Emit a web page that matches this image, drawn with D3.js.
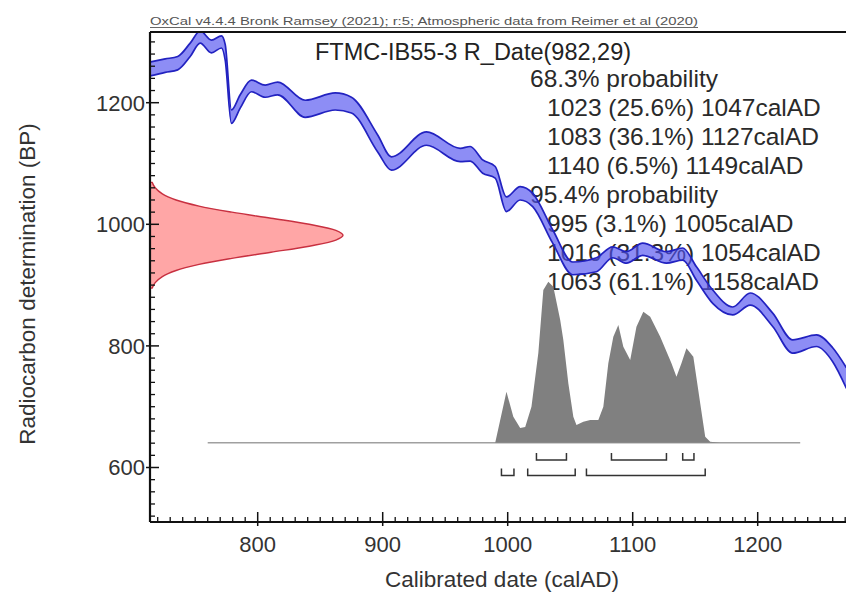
<!DOCTYPE html>
<html>
<head>
<meta charset="utf-8">
<script src="https://cdn.jsdelivr.net/npm/d3@7"></script>
<style>
  html, body { margin: 0; padding: 0; background: #fff; }
  svg { display: block; }
  text { font-family: "Liberation Sans", Arial, Helvetica, sans-serif; }
</style>
</head>
<body>
<svg id="chart" width="846" height="592"></svg>
<script>
// ---------------- DATA ----------------
const headerText = "OxCal v4.4.4 Bronk Ramsey (2021); r:5; Atmospheric data from Reimer et al (2020)";
const titleText = "FTMC-IB55-3 R_Date(982,29)";
const xTitle = "Calibrated date (calAD)";
const yTitle = "Radiocarbon determination (BP)";

// Calibration curve band (calAD, upper BP, lower BP)
const curveYears = [714, 726, 736, 746, 754, 763, 771, 774, 779, 786, 795, 806, 816, 838, 862, 875, 896, 907, 935, 962, 970, 980, 990, 999, 1010, 1020, 1036, 1052, 1071, 1084, 1095, 1108, 1127, 1140, 1151, 1164, 1180, 1194, 1212, 1228, 1247, 1260, 1271];
const curveUpper = [1267, 1272, 1276, 1298, 1318, 1303, 1310, 1296, 1188, 1213, 1237, 1229, 1234, 1204, 1216, 1209, 1147, 1111, 1152, 1125, 1128, 1106, 1095, 1045, 1062, 1051, 991, 938, 945, 963, 955, 969, 955, 961, 930, 892, 864, 887, 854, 810, 818, 797, 764];
const curveLower = [1244, 1250, 1254, 1276, 1298, 1282, 1290, 1270, 1166, 1191, 1218, 1209, 1213, 1176, 1188, 1183, 1119, 1089, 1130, 1103, 1104, 1084, 1076, 1021, 1040, 1029, 969, 917, 922, 945, 936, 949, 936, 941, 908, 870, 851, 867, 832, 788, 799, 774, 730];

// Radiocarbon measurement distribution (BP, relative density)
const dateBP  = [1069, 1060, 1050, 1040, 1030, 1020, 1010, 1000, 990, 982, 974, 964, 954, 944, 934, 924, 914, 904, 895];
const dateRel = [0.011, 0.027, 0.064, 0.135, 0.254, 0.424, 0.627, 0.825, 0.963, 1.0, 0.963, 0.825, 0.627, 0.424, 0.254, 0.135, 0.064, 0.027, 0.011];

// Calibrated probability distribution (calAD, relative probability)
const calYears = [990, 999, 1004.5, 1010, 1014, 1019, 1024.5, 1028.5, 1032.5, 1036.5, 1042, 1044.5, 1048.5, 1052.5, 1055, 1060.5, 1066, 1072.5, 1076.5, 1080.5, 1084.5, 1088.5, 1092.5, 1098, 1103, 1108.5, 1114, 1122, 1131, 1135, 1139, 1143, 1148.5, 1154, 1158, 1162, 1170];
const calProb  = [0, 0.317, 0.161, 0.091, 0.098, 0.224, 0.557, 0.948, 1.0, 0.969, 0.762, 0.638, 0.369, 0.161, 0.11, 0.13, 0.141, 0.141, 0.224, 0.493, 0.658, 0.731, 0.596, 0.514, 0.72, 0.814, 0.783, 0.658, 0.493, 0.41, 0.493, 0.586, 0.534, 0.245, 0.037, 0.006, 0];
const calSpan = [760, 1234];

// Highest probability ranges
const ranges68 = [[1023, 1047], [1083, 1127], [1140, 1149]];
const ranges95 = [[995, 1005], [1016, 1054], [1063, 1158]];

const summaryLines = [
  {t: "68.3% probability", head: true},
  {t: "1023 (25.6%) 1047calAD", head: false},
  {t: "1083 (36.1%) 1127calAD", head: false},
  {t: "1140 (6.5%) 1149calAD", head: false},
  {t: "95.4% probability", head: true},
  {t: "995 (3.1%) 1005calAD", head: false},
  {t: "1016 (31.3%) 1054calAD", head: false},
  {t: "1063 (61.1%) 1158calAD", head: false}
];

const xMajorTicks = [800, 900, 1000, 1100, 1200];
const xMinorTicks = d3.range(720, 1271, 10).filter(v => v % 100 !== 0);
const yMajorTicks = [600, 800, 1000, 1200];
const yMinorTicks = d3.range(520, 1320, 20).filter(v => v % 200 !== 0);

// ---------------- LAYOUT ----------------
const svg = d3.select("#chart");
const L = 150, T = 32, R = 850, B = 522;

const x = d3.scaleLinear().domain([800, 1200]).range([257.7, 757.7]);
const y = d3.scaleLinear().domain([1200, 600]).range([102.7, 467.5]);
const densX = d3.scaleLinear().domain([0, 1]).range([L, L + 193]);
const probY = d3.scaleLinear().domain([0, 1]).range([442.7, 281.7]);

svg.append("rect").attr("width", 846).attr("height", 592).attr("fill", "#fff");

svg.append("defs").append("clipPath").attr("id", "plotclip")
  .append("rect").attr("x", L).attr("y", T).attr("width", R - L).attr("height", B - T);

// header
svg.append("text").attr("x", L).attr("y", 25).attr("font-size", 11).attr("fill", "#555")
  .attr("textLength", 548).attr("lengthAdjust", "spacingAndGlyphs").text(headerText);
svg.append("line").attr("x1", L).attr("x2", L + 548).attr("y1", 27.5).attr("y2", 27.5)
  .attr("stroke", "#666").attr("stroke-width", 1);

// title
svg.append("text").attr("x", 315).attr("y", 59.5).attr("font-size", 23.5).attr("fill", "#222").text(titleText);

// summary lines
svg.append("g").selectAll("text").data(summaryLines).join("text")
  .attr("x", d => d.head ? 530 : 547)
  .attr("y", (d, i) => 87 + i * 29)
  .attr("font-size", 24.5).attr("fill", "#2a2a2a")
  .text(d => d.t);

const plot = svg.append("g").attr("clip-path", "url(#plotclip)");

// calibration curve band
const band = curveYears.map((yr, i) => ({yr, hi: curveUpper[i], lo: curveLower[i]}));
const cv = d3.curveMonotoneX;
plot.append("path").datum(band)
  .attr("d", d3.area().x(d => x(d.yr)).y0(d => y(d.lo)).y1(d => y(d.hi)).curve(cv))
  .attr("fill", "rgb(80,80,240)").attr("fill-opacity", 0.65);
plot.append("path").datum(band)
  .attr("d", d3.line().x(d => x(d.yr)).y(d => y(d.hi)).curve(cv))
  .attr("fill", "none").attr("stroke", "#2222c0").attr("stroke-width", 1.7);
plot.append("path").datum(band)
  .attr("d", d3.line().x(d => x(d.yr)).y(d => y(d.lo)).curve(cv))
  .attr("fill", "none").attr("stroke", "#2222c0").attr("stroke-width", 1.7);

// radiocarbon date distribution (red)
const dens = dateBP.map((bp, i) => ({bp, r: dateRel[i]}));
plot.append("path").datum(dens)
  .attr("d", d3.area().y(d => y(d.bp)).x0(L).x1(d => densX(d.r)).curve(d3.curveCatmullRom))
  .attr("fill", "#ffa6a6").attr("stroke", "#c83040").attr("stroke-width", 1.4);

// calibrated distribution (grey)
svg.append("line").attr("x1", x(calSpan[0])).attr("x2", x(calSpan[1]))
  .attr("y1", probY(0)).attr("y2", probY(0)).attr("stroke", "#a0a0a0").attr("stroke-width", 1.5);
const cal = calYears.map((yr, i) => ({yr, p: calProb[i]}));
svg.append("path").datum(cal)
  .attr("d", d3.area().x(d => x(d.yr)).y0(probY(0)).y1(d => probY(d.p)).curve(d3.curveLinear))
  .attr("fill", "#808080");

// range brackets
function brackets(ranges, yLine, h) {
  const g = svg.append("g").attr("fill", "none").attr("stroke", "#333").attr("stroke-width", 1.5);
  g.selectAll("path").data(ranges).join("path")
    .attr("d", d => `M${x(d[0])},${yLine - h}V${yLine}H${x(d[1])}V${yLine - h}`);
}
brackets(ranges68, 460, 7);
brackets(ranges95, 475.5, 7);

// axes / frame
const ax = svg.append("g").attr("stroke", "#111");
ax.append("line").attr("x1", L).attr("x2", R).attr("y1", T).attr("y2", T).attr("stroke-width", 2);
ax.append("line").attr("x1", L).attr("x2", L).attr("y1", T).attr("y2", B).attr("stroke-width", 2.2);
ax.append("line").attr("x1", L).attr("x2", R).attr("y1", B).attr("y2", B).attr("stroke-width", 2.2);

ax.selectAll(".ymin").data(yMinorTicks).join("line")
  .attr("x1", L).attr("x2", L + 5).attr("y1", d => y(d)).attr("y2", d => y(d)).attr("stroke-width", 1.3);
ax.selectAll(".ymaj").data(yMajorTicks).join("line")
  .attr("x1", L - 4).attr("x2", L + 9).attr("y1", d => y(d)).attr("y2", d => y(d)).attr("stroke-width", 1.5);
ax.selectAll(".xmin").data(xMinorTicks).join("line")
  .attr("y1", B).attr("y2", B - 5).attr("x1", d => x(d)).attr("x2", d => x(d)).attr("stroke-width", 1.3);
ax.selectAll(".xmaj").data(xMajorTicks).join("line")
  .attr("y1", B + 4).attr("y2", B - 10).attr("x1", d => x(d)).attr("x2", d => x(d)).attr("stroke-width", 1.5);

svg.append("g").selectAll("text").data(yMajorTicks).join("text")
  .attr("x", L - 5).attr("y", d => y(d)).attr("dy", "0.36em").attr("text-anchor", "end")
  .attr("font-size", 22).attr("fill", "#333").text(d => d);
svg.append("g").selectAll("text").data(xMajorTicks).join("text")
  .attr("x", d => x(d)).attr("y", 552).attr("text-anchor", "middle")
  .attr("font-size", 22).attr("fill", "#333").text(d => d);

svg.append("text").attr("x", 502).attr("y", 587).attr("text-anchor", "middle")
  .attr("font-size", 22.5).attr("fill", "#333").text(xTitle);
svg.append("text").attr("transform", "translate(35,284) rotate(-90)").attr("text-anchor", "middle")
  .attr("font-size", 22.5).attr("fill", "#333").text(yTitle);
</script>
</body>
</html>
